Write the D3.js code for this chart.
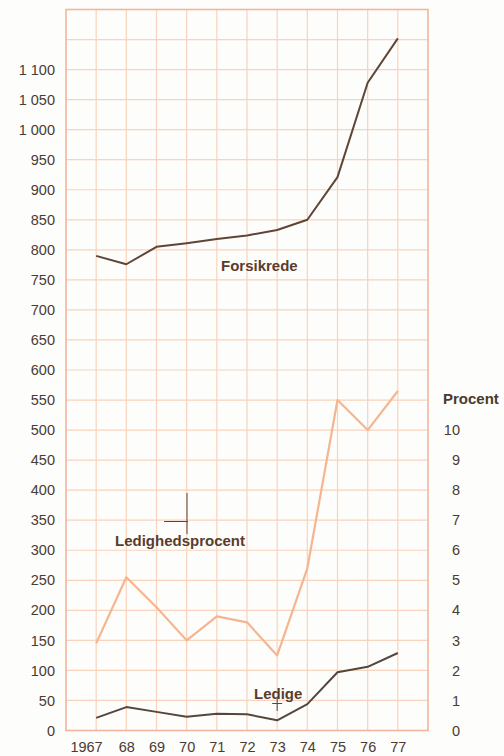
<!DOCTYPE html>
<html>
<head>
<meta charset="utf-8">
<script src="https://cdn.jsdelivr.net/npm/d3@7"></script>
<style>
  html, body { margin: 0; padding: 0; background: #fdfdfb; }
  svg { display: block; }
  text { font-family: "Liberation Sans", Arial, Helvetica, sans-serif; }
</style>
</head>
<body>
<svg id="chart" width="504" height="756"></svg>
<script>
// Years on the horizontal axis
const years = [1967, 1968, 1969, 1970, 1971, 1972, 1973, 1974, 1975, 1976, 1977];
const yearLabels = ["1967", "68", "69", "70", "71", "72", "73", "74", "75", "76", "77"];

// Insured members (thousands), left axis
const forsikrede = [790, 776, 805, 811, 818, 824, 833, 850, 921, 1078, 1152];
// Unemployed (thousands), left axis
const ledige = [21, 39, 31, 23, 28, 27, 17, 44, 97, 106, 129];
// Unemployment rate (percent), right axis
const ledighedsprocent = [2.9, 5.1, 4.1, 3.0, 3.8, 3.6, 2.5, 5.4, 11.0, 10.0, 11.3];

// Tick values
const leftTicks = d3.range(0, 1101, 50);
const rightTicks = d3.range(0, 11, 1);

const svg = d3.select("#chart");
const frameL = 66, frameR = 428, frameT = 9.5, frameB = 730.5;

const x = d3.scaleLinear().domain([1966, 1978]).range([frameL, frameR]);
const yL = d3.scaleLinear().domain([0, 1200]).range([frameB, frameT]);
const yR = d3.scaleLinear().domain([0, 24]).range([frameB, frameT]);

const gridColor = "#f8d3bd";
const textColor = "#4a3b33";
const tickSize = 14.5;

// Grid
const grid = svg.append("g");
grid.selectAll("line.h")
  .data(d3.range(50, 1200, 50))
  .join("line")
  .attr("class", "h")
  .attr("x1", frameL).attr("x2", frameR)
  .attr("y1", d => yL(d)).attr("y2", d => yL(d))
  .attr("stroke", gridColor).attr("stroke-width", 1.2);
grid.selectAll("line.v")
  .data(years)
  .join("line")
  .attr("class", "v")
  .attr("x1", d => x(d)).attr("x2", d => x(d))
  .attr("y1", frameT).attr("y2", frameB)
  .attr("stroke", gridColor).attr("stroke-width", 1.2);

// Frame
svg.append("rect")
  .attr("x", frameL).attr("y", frameT)
  .attr("width", frameR - frameL).attr("height", frameB - frameT)
  .attr("fill", "none")
  .attr("stroke", "#f4b59e").attr("stroke-width", 1.6);

// Left axis
const axL = svg.append("g").attr("transform", `translate(${frameL},0)`)
  .call(d3.axisLeft(yL).tickValues(leftTicks).tickSize(0).tickPadding(11)
    .tickFormat(d => d >= 1000 ? "1 " + d3.format("03")(d % 1000) : String(d)));
axL.select(".domain").remove();
axL.selectAll("text").attr("fill", textColor).attr("font-size", tickSize);

// Right axis
const axR = svg.append("g").attr("transform", `translate(460,0)`)
  .call(d3.axisLeft(yR).tickValues(rightTicks).tickSize(0).tickPadding(0));
axR.select(".domain").remove();
axR.selectAll("text").attr("fill", textColor).attr("font-size", tickSize);

// Bottom axis
const axB = svg.append("g").attr("transform", `translate(0,${frameB})`)
  .call(d3.axisBottom(x).tickValues(years).tickSize(0).tickPadding(11)
    .tickFormat((d, i) => yearLabels[i]));
axB.select(".domain").remove();
axB.selectAll("text").attr("fill", textColor).attr("font-size", tickSize);
axB.selectAll("text").filter((d, i) => i === 0)
  .attr("text-anchor", "end").attr("x", 6);

// Lines
const lineL = d3.line().x((d, i) => x(years[i])).y(d => yL(d));
const lineR = d3.line().x((d, i) => x(years[i])).y(d => yR(d));

svg.append("path").datum(ledighedsprocent)
  .attr("d", lineR).attr("fill", "none")
  .attr("stroke", "#f5b590").attr("stroke-width", 2.2)
  .attr("stroke-linejoin", "round");

svg.append("path").datum(forsikrede)
  .attr("d", lineL).attr("fill", "none")
  .attr("stroke", "#5e4536").attr("stroke-width", 2)
  .attr("stroke-linejoin", "round");

svg.append("path").datum(ledige)
  .attr("d", lineL).attr("fill", "none")
  .attr("stroke", "#55463d").attr("stroke-width", 2)
  .attr("stroke-linejoin", "round");

// Registration marks
const mark = svg.append("g").attr("stroke", "#5a4540").attr("stroke-width", 1);
mark.append("line").attr("x1", 187).attr("x2", 187).attr("y1", 493).attr("y2", 534);
mark.append("line").attr("x1", 164).attr("x2", 188).attr("y1", 521.5).attr("y2", 521.5);
mark.append("line").attr("x1", x(1973)).attr("x2", x(1973)).attr("y1", 697).attr("y2", 711);
mark.append("line").attr("x1", x(1973) - 5).attr("x2", x(1973) + 5).attr("y1", 703.5).attr("y2", 703.5);

// Series labels
const labelColor = "#5a3c2c";
const lab = (t, lx, ly, c) => svg.append("text").text(t)
  .attr("x", lx).attr("y", ly).attr("font-size", 15)
  .attr("font-weight", "bold").attr("fill", c || labelColor);
lab("Forsikrede", 221, 271);
lab("Ledighedsprocent", 115, 546);
lab("Ledige", 254, 699);
lab("Procent", 443, 404, "#4a3b2a");
</script>
</body>
</html>
